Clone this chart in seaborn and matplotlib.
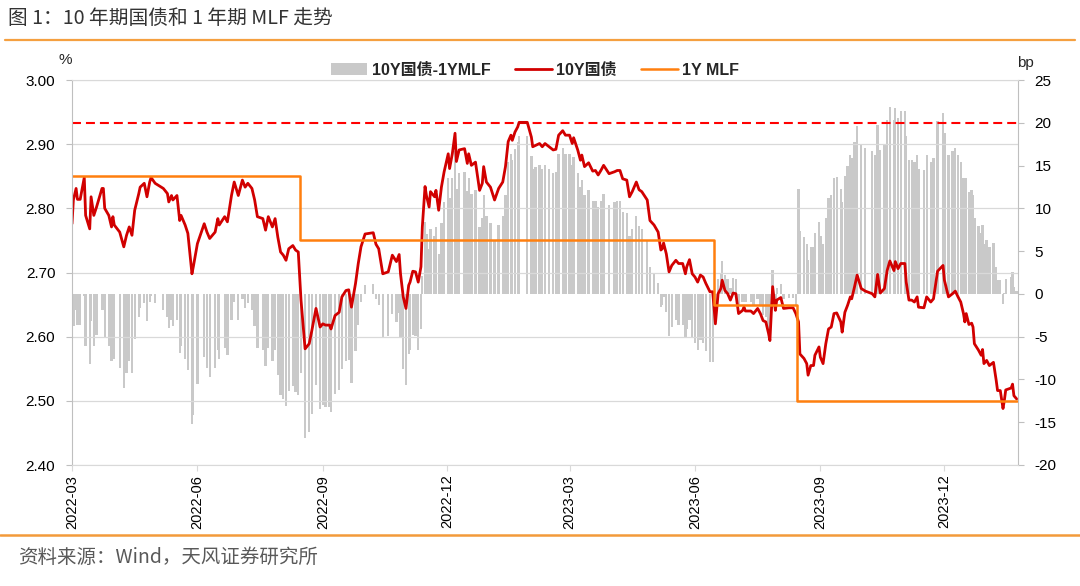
import numpy as np
import pandas as pd
import matplotlib
matplotlib.use("Agg")
import matplotlib.pyplot as plt
import matplotlib.dates as mdates
from matplotlib.lines import Line2D
import seaborn as sns

# 10年期国债收益率 (%)
y10_dates = [
    "2022-03-01", "2022-03-02", "2022-03-04", "2022-03-05", "2022-03-07", "2022-03-10", "2022-03-11", "2022-03-14", "2022-03-15", "2022-03-17",
    "2022-03-19", "2022-03-23", "2022-03-24", "2022-03-25", "2022-03-28", "2022-03-30", "2022-03-31", "2022-04-01", "2022-04-05", "2022-04-08",
    "2022-04-10", "2022-04-12", "2022-04-14", "2022-04-16", "2022-04-19", "2022-04-20", "2022-04-23", "2022-04-25", "2022-04-27", "2022-04-28",
    "2022-05-01", "2022-05-07", "2022-05-10", "2022-05-11", "2022-05-13", "2022-05-14", "2022-05-17", "2022-05-19", "2022-05-20", "2022-05-23",
    "2022-05-25", "2022-05-28", "2022-05-29", "2022-06-01", "2022-06-06", "2022-06-08", "2022-06-10", "2022-06-14", "2022-06-16", "2022-06-17",
    "2022-06-21", "2022-06-23", "2022-06-26", "2022-06-28", "2022-07-01", "2022-07-04", "2022-07-06", "2022-07-08", "2022-07-11", "2022-07-13",
    "2022-07-15", "2022-07-19", "2022-07-21", "2022-07-23", "2022-07-26", "2022-07-28", "2022-07-30", "2022-08-01", "2022-08-03", "2022-08-05",
    "2022-08-07", "2022-08-10", "2022-08-12", "2022-08-14", "2022-08-16", "2022-08-19", "2022-08-22", "2022-08-24", "2022-08-27", "2022-08-30",
    "2022-09-01", "2022-09-03", "2022-09-06", "2022-09-07", "2022-09-10", "2022-09-13", "2022-09-15", "2022-09-18", "2022-09-20", "2022-09-22",
    "2022-09-25", "2022-09-27", "2022-09-29", "2022-10-02", "2022-10-08", "2022-10-10", "2022-10-12", "2022-10-15", "2022-10-19", "2022-10-22",
    "2022-10-25", "2022-10-27", "2022-10-28", "2022-10-30", "2022-11-01", "2022-11-03", "2022-11-04", "2022-11-06", "2022-11-08", "2022-11-10",
    "2022-11-12", "2022-11-13", "2022-11-15", "2022-11-16", "2022-11-18", "2022-11-19", "2022-11-22", "2022-11-23", "2022-11-25", "2022-11-27",
    "2022-11-29", "2022-12-02", "2022-12-03", "2022-12-05", "2022-12-07", "2022-12-08", "2022-12-10", "2022-12-14", "2022-12-16", "2022-12-17",
    "2022-12-19", "2022-12-22", "2022-12-25", "2022-12-27", "2022-12-28", "2022-12-30", "2023-01-02", "2023-01-05", "2023-01-08", "2023-01-11",
    "2023-01-13", "2023-01-15", "2023-01-17", "2023-01-18", "2023-01-20", "2023-01-22", "2023-01-23", "2023-01-29", "2023-02-01", "2023-02-02",
    "2023-02-04", "2023-02-07", "2023-02-09", "2023-02-11", "2023-02-14", "2023-02-17", "2023-02-19", "2023-02-21", "2023-02-24", "2023-02-26",
    "2023-03-01", "2023-03-03", "2023-03-04", "2023-03-07", "2023-03-09", "2023-03-10", "2023-03-12", "2023-03-15", "2023-03-18", "2023-03-20",
    "2023-03-22", "2023-03-24", "2023-03-26", "2023-03-30", "2023-04-03", "2023-04-05", "2023-04-07", "2023-04-09", "2023-04-12", "2023-04-14",
    "2023-04-16", "2023-04-19", "2023-04-21", "2023-04-23", "2023-04-27", "2023-04-29", "2023-05-02", "2023-05-05", "2023-05-07", "2023-05-08",
    "2023-05-09", "2023-05-11", "2023-05-13", "2023-05-15", "2023-05-18", "2023-05-20", "2023-05-23", "2023-05-25", "2023-05-26", "2023-05-28",
    "2023-05-30", "2023-06-01", "2023-06-03", "2023-06-05", "2023-06-07", "2023-06-09", "2023-06-12", "2023-06-14", "2023-06-15", "2023-06-16",
    "2023-06-17", "2023-06-18", "2023-06-20", "2023-06-21", "2023-06-23", "2023-06-25", "2023-06-27", "2023-06-29", "2023-07-01", "2023-07-03",
    "2023-07-06", "2023-07-07", "2023-07-08", "2023-07-12", "2023-07-14", "2023-07-17", "2023-07-19", "2023-07-21", "2023-07-23", "2023-07-25",
    "2023-07-26", "2023-07-28", "2023-07-30", "2023-07-31", "2023-08-03", "2023-08-05", "2023-08-09", "2023-08-12", "2023-08-14", "2023-08-16",
    "2023-08-17", "2023-08-20", "2023-08-22", "2023-08-23", "2023-08-25", "2023-08-27", "2023-08-28", "2023-08-31", "2023-09-01", "2023-09-03",
    "2023-09-05", "2023-09-07", "2023-09-09", "2023-09-11", "2023-09-13", "2023-09-16", "2023-09-17", "2023-09-19", "2023-09-21", "2023-09-23",
    "2023-09-24", "2023-09-26", "2023-09-28", "2023-10-01", "2023-10-04", "2023-10-09", "2023-10-11", "2023-10-13", "2023-10-15", "2023-10-18",
    "2023-10-20", "2023-10-22", "2023-10-25", "2023-10-26", "2023-10-28", "2023-10-30", "2023-11-02", "2023-11-03", "2023-11-05", "2023-11-07",
    "2023-11-09", "2023-11-11", "2023-11-12", "2023-11-16", "2023-11-18", "2023-11-21", "2023-11-23", "2023-11-26", "2023-11-30", "2023-12-01",
    "2023-12-04", "2023-12-07", "2023-12-09", "2023-12-11", "2023-12-13", "2023-12-15", "2023-12-16", "2023-12-17", "2023-12-19", "2023-12-21",
    "2023-12-22", "2023-12-23", "2023-12-26", "2023-12-28", "2023-12-29", "2023-12-30", "2024-01-01", "2024-01-03", "2024-01-06", "2024-01-08",
    "2024-01-09", "2024-01-11", "2024-01-13", "2024-01-14", "2024-01-15", "2024-01-19", "2024-01-20", "2024-01-21", "2024-01-23",
]
y10_values = [
    2.776, 2.813, 2.831, 2.814, 2.814, 2.848, 2.789, 2.768, 2.818, 2.789,
    2.802, 2.831, 2.831, 2.800, 2.789, 2.771, 2.787, 2.774, 2.763, 2.740,
    2.758, 2.771, 2.758, 2.797, 2.823, 2.833, 2.839, 2.818, 2.841, 2.848,
    2.839, 2.831, 2.823, 2.810, 2.820, 2.813, 2.820, 2.781, 2.789, 2.774,
    2.761, 2.698, 2.709, 2.745, 2.776, 2.763, 2.753, 2.763, 2.784, 2.774,
    2.787, 2.779, 2.820, 2.841, 2.820, 2.844, 2.833, 2.839, 2.831, 2.813,
    2.787, 2.784, 2.766, 2.787, 2.771, 2.784, 2.755, 2.732, 2.727, 2.719,
    2.737, 2.742, 2.735, 2.732, 2.657, 2.581, 2.589, 2.610, 2.644, 2.615,
    2.620, 2.618, 2.618, 2.612, 2.633, 2.638, 2.662, 2.672, 2.673, 2.646,
    2.683, 2.714, 2.740, 2.760, 2.762, 2.744, 2.737, 2.698, 2.701, 2.727,
    2.717, 2.728, 2.698, 2.662, 2.644, 2.680, 2.685, 2.702, 2.701, 2.685,
    2.709, 2.771, 2.834, 2.820, 2.802, 2.826, 2.818, 2.828, 2.797, 2.833,
    2.857, 2.885, 2.862, 2.885, 2.917, 2.873, 2.891, 2.893, 2.870, 2.885,
    2.867, 2.872, 2.828, 2.839, 2.865, 2.841, 2.833, 2.813, 2.831, 2.841,
    2.865, 2.904, 2.914, 2.906, 2.919, 2.927, 2.934, 2.934, 2.911, 2.896,
    2.898, 2.901, 2.896, 2.901, 2.896, 2.891, 2.892, 2.914, 2.921, 2.914,
    2.914, 2.901, 2.910, 2.891, 2.875, 2.883, 2.865, 2.871, 2.858, 2.859,
    2.852, 2.859, 2.867, 2.854, 2.857, 2.859, 2.859, 2.846, 2.844, 2.818,
    2.826, 2.841, 2.829, 2.826, 2.813, 2.781, 2.774, 2.763, 2.735, 2.737,
    2.746, 2.729, 2.701, 2.711, 2.719, 2.714, 2.714, 2.698, 2.709, 2.720,
    2.698, 2.693, 2.685, 2.696, 2.693, 2.683, 2.670, 2.670, 2.646, 2.620,
    2.644, 2.667, 2.675, 2.688, 2.672, 2.667, 2.657, 2.668, 2.667, 2.636,
    2.641, 2.646, 2.640, 2.640, 2.636, 2.644, 2.636, 2.625, 2.623, 2.605,
    2.594, 2.678, 2.641, 2.657, 2.661, 2.644, 2.645, 2.645, 2.636, 2.623,
    2.573, 2.566, 2.558, 2.540, 2.555, 2.555, 2.571, 2.584, 2.568, 2.558,
    2.589, 2.612, 2.615, 2.636, 2.637, 2.623, 2.607, 2.638, 2.649, 2.662,
    2.659, 2.677, 2.696, 2.675, 2.671, 2.667, 2.662, 2.697, 2.668, 2.675,
    2.703, 2.718, 2.703, 2.717, 2.706, 2.714, 2.714, 2.685, 2.657, 2.657,
    2.654, 2.662, 2.646, 2.645, 2.662, 2.654, 2.659, 2.702, 2.711, 2.688,
    2.662, 2.667, 2.671, 2.662, 2.654, 2.636, 2.623, 2.636, 2.619, 2.621,
    2.615, 2.589, 2.579, 2.571, 2.580, 2.558, 2.563, 2.555, 2.560, 2.532,
    2.516, 2.516, 2.488, 2.501, 2.517, 2.520, 2.526, 2.508, 2.503,
]

# 1年期 MLF (%), dates de changement
mlf_dates = ["2022-03-01", "2022-08-15", "2023-06-15", "2023-08-15", "2024-01-23"]
mlf_rates = [2.85, 2.75, 2.65, 2.50, 2.50]

assert len(y10_dates) == len(y10_values)

dates = pd.to_datetime(y10_dates)
y10 = np.array(y10_values)
mlf_d = pd.to_datetime(mlf_dates)

# Ecart 10Y - MLF en bp
idx = np.searchsorted(mlf_d.values, dates.values, side="right") - 1
spread = (y10 - np.array(mlf_rates)[idx]) * 100

sns.set_style("white")
plt.rcParams["font.family"] = ["Liberation Sans", "Noto Sans CJK SC", "DejaVu Sans"]
plt.rcParams["axes.unicode_minus"] = False

fig = plt.figure(figsize=(10.8, 5.86), dpi=100)
ax = fig.add_axes([72 / 1080, 1 - 465 / 586, (1018 - 72) / 1080, 385 / 586])
ax2 = ax.twinx()
ax.set_zorder(ax2.get_zorder() + 1)
ax.patch.set_visible(False)

# barres sur l'axe droit
bars = ax2.bar(dates, spread, width=1.7, color="#c9c9c9", linewidth=0, label="10Y国债-1YMLF")
ax2.axhline(20, color="#ff0000", ls=(0, (4.3, 2.4)), lw=1.5)

sns.lineplot(x=dates, y=y10, ax=ax, color="#d10000", lw=2.0, label="10Y国债")
sns.lineplot(x=mlf_d, y=mlf_rates, ax=ax, color="#ff7f0e", lw=1.8,
             drawstyle="steps-post", label="1Y MLF")
ax.get_legend().remove()

# axes
ax.set_xlim(pd.Timestamp("2022-03-01"), pd.Timestamp("2024-01-24"))
ax.set_ylim(2.40, 3.00)
ax.set_yticks(np.arange(2.40, 3.001, 0.10))
ax.yaxis.set_major_formatter(matplotlib.ticker.FormatStrFormatter("%.2f"))
ax2.set_ylim(-20, 25)
ax2.set_yticks(range(-20, 26, 5))

ax.xaxis.set_major_locator(mdates.MonthLocator(bymonth=[3, 6, 9, 12]))
ax.xaxis.set_major_formatter(mdates.DateFormatter("%Y-%m"))
ax.set_xlabel("")
ax.set_ylabel("")

ax.yaxis.grid(True, color="#d9d9d9", lw=0.9)
ax.xaxis.grid(False)

ax.spines["left"].set_color("#bfbfbf")
ax.spines["bottom"].set_color("#d9d9d9")
ax.spines["top"].set_color("#d9d9d9")
ax.spines["right"].set_visible(False)
for s in ["left", "top", "bottom"]:
    ax2.spines[s].set_visible(False)
ax2.spines["right"].set_color("#bfbfbf")

ax.tick_params(axis="y", left=True, direction="out", length=4, color="#bfbfbf",
               labelsize=11, pad=8, labelcolor="black")
ax.tick_params(axis="x", bottom=True, direction="out", length=4, color="#d9d9d9",
               labelsize=10.5, pad=3, labelrotation=90, labelcolor="black")
ax2.tick_params(axis="y", right=True, direction="out", length=4, color="#bfbfbf",
                labelsize=11, pad=8, labelcolor="black")

fig.text(65 / 1080, 1 - 60 / 586, "%", ha="center", va="center", fontsize=11)
fig.text(1025 / 1080, 1 - 63 / 586, "bp", ha="center", va="center", fontsize=11)

# légende
handles = [bars, ax.lines[0], ax.lines[1]]
labels = ["10Y国债-1YMLF", "10Y国债", "1Y MLF"]
fig.legend(handles, labels, loc="center", bbox_to_anchor=(535 / 1080, 1 - 70 / 586),
           ncol=3, frameon=False, prop={"size": 11.5, "weight": "bold"},
           handlelength=2.3, handletextpad=0.3, columnspacing=1.5)

# titre, traits et source
fig.text(8 / 1080, 1 - 18 / 586, "图 1：10 年期国债和 1 年期 MLF 走势", fontsize=14.2,
         color="#333333", family=["Noto Sans CJK SC"], va="center")
fig.add_artist(Line2D([5 / 1080, 1075 / 1080], [1 - 40 / 586] * 2, color="#f5a040", lw=1.6))
fig.add_artist(Line2D([0, 1], [1 - 535 / 586] * 2, color="#f39a3a", lw=1.8))
fig.text(18 / 1080, 1 - 557 / 586, "资料来源：Wind，天风证券研究所", fontsize=14,
         color="#595959", family=["Noto Sans CJK SC"], va="center")

fig.savefig("out.png", dpi=100)
